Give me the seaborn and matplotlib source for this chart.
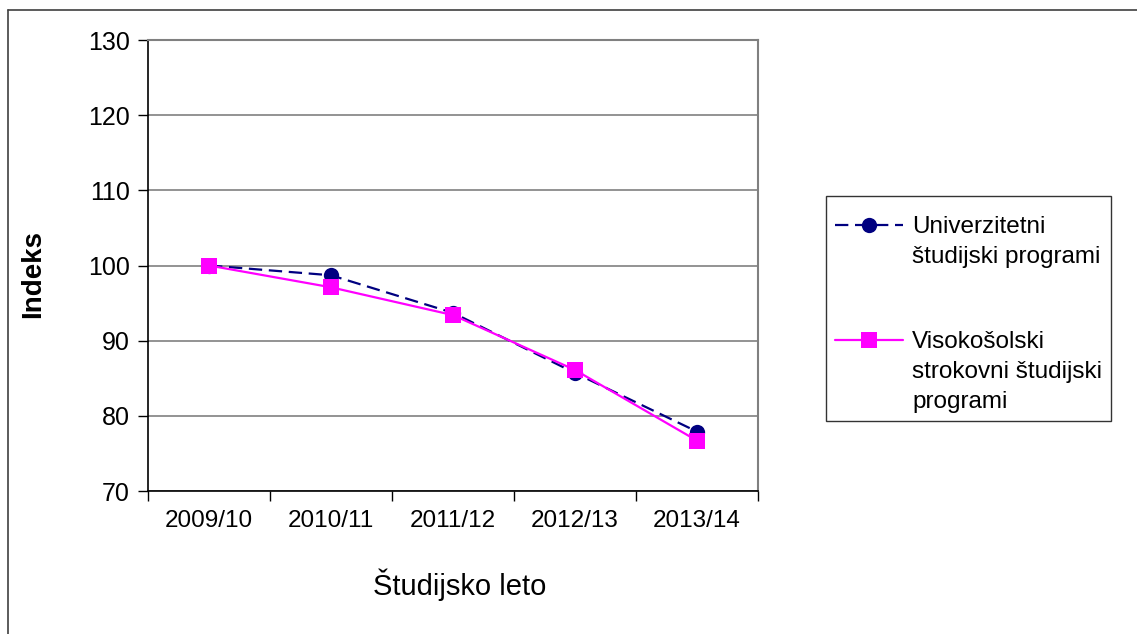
import pandas as pd
import seaborn as sns
import matplotlib.pyplot as plt
from matplotlib.lines import Line2D
from matplotlib.ticker import FixedLocator

# podatki
leta = ['2009/10', '2010/11', '2011/12', '2012/13', '2013/14']
univerzitetni = [100, 98.7, 93.7, 85.7, 77.9]
visokosolski = [100, 97.1, 93.4, 86.1, 76.7]
serije = ['Univerzitetni študijski programi',
          'Visokošolski strokovni študijski programi']
legenda_vrstice = [['Univerzitetni', 'študijski programi'],
                   ['Visokošolski', 'strokovni študijski', 'programi']]

df = pd.DataFrame({
    'leto': leta * 2,
    'indeks': univerzitetni + visokosolski,
    'program': [serije[0]] * 5 + [serije[1]] * 5,
})

sns.set_style("white", rc={'text.color': 'black', 'axes.labelcolor': 'black',
                           'xtick.color': 'black', 'ytick.color': 'black'})
plt.rcParams['font.family'] = ['Liberation Sans', 'DejaVu Sans']

fig = plt.figure(figsize=(11.37, 6.34), dpi=100)
ax = fig.add_axes([148 / 1137, 143 / 634, 610 / 1137, 451 / 634])

barve = {serije[0]: '#000080', serije[1]: '#ff00ff'}
sns.lineplot(data=df, x='leto', y='indeks', hue='program', style='program',
             palette=barve,
             markers={serije[0]: 'o', serije[1]: 's'},
             dashes={serije[0]: (6, 3), serije[1]: ''},
             markersize=11, linewidth=1.6, markeredgewidth=0,
             sort=False, ax=ax, legend=False)

ax.set_xlim(-0.5, 4.5)
ax.set_ylim(70, 130)
ax.set_yticks(range(70, 131, 10))
ax.yaxis.grid(True, color='#808080', linewidth=1.2)
ax.set_axisbelow(True)

ax.tick_params(axis='x', which='major', length=0, labelsize=17.5, pad=14)
ax.xaxis.set_minor_locator(FixedLocator([-0.5, 0.5, 1.5, 2.5, 3.5, 4.5]))
ax.tick_params(axis='x', which='minor', length=7, width=1, color='black', direction='out', bottom=True)
ax.tick_params(axis='y', length=7, width=1, color='black', direction='out', left=True, labelsize=18, pad=6)

for s in ['left', 'bottom']:
    ax.spines[s].set_color('black')
    ax.spines[s].set_linewidth(1.2)
for s in ['top', 'right']:
    ax.spines[s].set_color('#808080')
    ax.spines[s].set_linewidth(1.5)

ax.set_xlabel('Študijsko leto', fontsize=21, labelpad=26)
ax.set_ylabel('Indeks', fontsize=20, fontweight='bold', labelpad=30)
ax.xaxis.label.set_x(0.511)
ax.yaxis.label.set_y(0.481)

# legenda: oznaka poravnana s prvo vrstico besedila
prazno = Line2D([], [], linestyle='none')
h1 = Line2D([], [], color=barve[serije[0]], linestyle=(0, (6, 3)), linewidth=1.6,
            marker='o', markersize=11, markeredgewidth=0)
h2 = Line2D([], [], color=barve[serije[1]], linestyle='-', linewidth=1.6,
            marker='s', markersize=11, markeredgewidth=0)
handles = [h1, prazno, prazno, h2, prazno, prazno]
labels = [legenda_vrstice[0][0], legenda_vrstice[0][1], '\n',
          legenda_vrstice[1][0], legenda_vrstice[1][1], legenda_vrstice[1][2]]
leg = ax.legend(handles, labels, loc='upper left',
                bbox_to_anchor=(826 / 1137, 1 - 196 / 634),
                bbox_transform=fig.transFigure, fontsize=17.5, frameon=True,
                fancybox=False, edgecolor='black', labelspacing=0.32,
                handlelength=2.8, handletextpad=0.4, borderpad=0.35,
                borderaxespad=0, title=' ', title_fontsize=2)
leg.get_frame().set_linewidth(1)

# okvir slike (vidna le zgornja in leva stranica)
fig.add_artist(Line2D([8 / 1137, 8 / 1137], [0, 1 - 10 / 634], transform=fig.transFigure,
                      color='#404040', linewidth=1.2))
fig.add_artist(Line2D([8 / 1137, 1], [1 - 10 / 634, 1 - 10 / 634], transform=fig.transFigure,
                      color='#404040', linewidth=1.2))

plt.savefig('out.png', dpi=100)
